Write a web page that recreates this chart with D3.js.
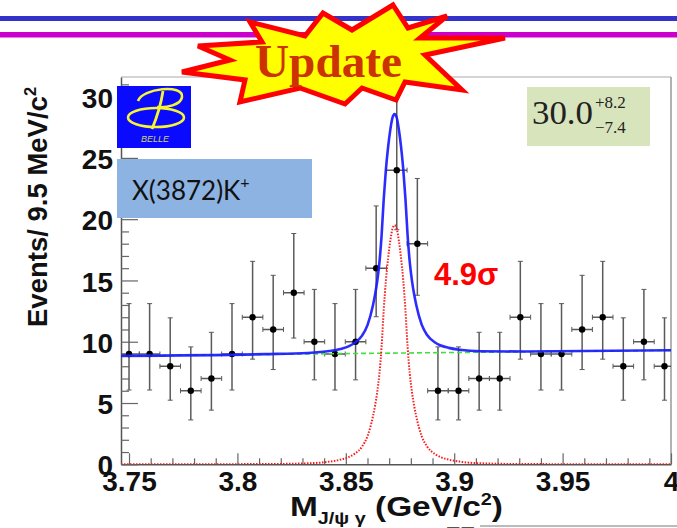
<!DOCTYPE html>
<html><head><meta charset="utf-8">
<script src="https://cdn.jsdelivr.net/npm/d3@7"></script>
<style>html,body{margin:0;padding:0;background:#fff;} svg{display:block;}</style>
</head><body>
<svg id="chart" width="677" height="528"></svg>
<script>
// Bin centres of the J/psi gamma mass histogram (GeV/c^2), 9.5 MeV bins
const binCenters = [3.7500,3.7595,3.7690,3.7785,3.7880,3.7975,3.8070,3.8165,3.8260,3.8355,
                    3.8450,3.8545,3.8640,3.8735,3.8830,3.8925,3.9020,3.9115,3.9210,3.9305,
                    3.9400,3.9495,3.9590,3.9685,3.9780,3.9875,3.9970];
// Events per bin and asymmetric Poisson errors
const events  = [9,9,8,6,7,9,12,11,14,10,9,10,16,24,18,6,6,7,7,12,9,9,11,12,8,10,8];
const errLow  = [2.94,2.94,2.77,2.38,2.58,2.94,3.42,3.27,3.70,3.11,2.94,3.11,3.96,4.86,4.21,
                 2.38,2.38,2.58,2.58,3.42,2.94,2.94,3.27,3.42,2.77,3.11,2.77];
const errHigh = [4.11,4.11,3.95,3.58,3.77,4.11,4.56,4.42,4.83,4.27,4.11,4.27,5.08,5.96,5.32,
                 3.58,3.58,3.77,3.77,4.56,4.11,4.11,4.42,4.56,3.95,4.27,3.95];
const binHalfWidth = 0.00475;

// Fit components: linear background and X(3872) signal shape
const bgMass  = [3.7463, 4.0];
const bgLevel = [8.85, 9.3];
const peakMass = 3.8725;
const sigOffset = [0, 0.001, 0.002, 0.003, 0.004, 0.005, 0.006, 0.007, 0.008, 0.009, 0.010,
                   0.0125, 0.015, 0.0185, 0.021, 0.025, 0.030, 0.040, 0.060, 0.130];
const sigHeight = [19.5, 19.2, 18.2, 16.8, 15.0, 12.6, 9.6, 7.4, 5.9, 4.8, 3.9,
                   2.3, 1.45, 0.85, 0.6, 0.38, 0.22, 0.08, 0.02, 0];

// Axis ticks
const xMajor = [3.75, 3.8, 3.85, 3.9, 3.95, 4.0];
const xTickLabels = ["3.75", "3.8", "3.85", "3.9", "3.95", "4"];
const xMinor = [3.76,3.77,3.78,3.79,3.81,3.82,3.83,3.84,3.86,3.87,3.88,3.89,3.91,3.92,3.93,3.94,3.96,3.97,3.98,3.99];
const yMajor = [0, 5, 10, 15, 20, 25, 30];
const yTickLabels = ["0", "5", "10", "15", "20", "25", "30"];
const yMinor = [1,2,3,4,6,7,8,9,11,12,13,14,16,17,18,19,21,22,23,24,26,27,28,29,31];

const svg = d3.select("#chart");
const x = d3.scaleLinear().domain([3.7463, 4.0]).range([121, 671]);
const y = d3.scaleLinear().domain([0, 31.6]).range([464.3, 77]);

// Decorative header bars
svg.append("rect").attr("x", 0).attr("y", 16).attr("width", 677).attr("height", 5).attr("fill", "#3333cc");
svg.append("rect").attr("x", 0).attr("y", 32).attr("width", 677).attr("height", 5.5).attr("fill", "#cc00cc");

// Frame
svg.append("defs").append("clipPath").attr("id", "plotClip")
  .append("rect").attr("x", 121).attr("y", 77).attr("width", 550).attr("height", 387.3);
svg.append("line").attr("x1", 121).attr("x2", 671).attr("y1", 77).attr("y2", 77)
  .attr("stroke", "#aaa").attr("stroke-width", 1.2);
svg.append("line").attr("x1", 671).attr("x2", 671).attr("y1", 77).attr("y2", 464.3)
  .attr("stroke", "#999").attr("stroke-width", 1.5);

// Axes
const tickFont = "bold 28px 'Liberation Sans', Arial, sans-serif";
svg.append("g").attr("transform", "translate(0,464.3)")
  .call(d3.axisBottom(x).tickValues(xMajor).tickFormat((d, i) => xTickLabels[i])
        .tickSizeInner(-11).tickSizeOuter(0).tickPadding(7));
svg.append("g").attr("transform", "translate(0,464.3)")
  .call(d3.axisBottom(x).tickValues(xMinor).tickFormat("").tickSizeInner(-6).tickSizeOuter(0))
  .select(".domain").remove();
const gy = svg.append("g").attr("transform", "translate(121,0)")
  .call(d3.axisLeft(y).tickValues(yMajor).tickFormat((d, i) => yTickLabels[i])
        .tickSizeInner(-17).tickSizeOuter(0).tickPadding(8));
svg.append("g").attr("transform", "translate(121,0)")
  .call(d3.axisLeft(y).tickValues(yMinor).tickFormat("").tickSizeInner(-8).tickSizeOuter(0))
  .select(".domain").remove();
svg.selectAll(".domain").attr("stroke", "#555").attr("stroke-width", 1.5);
svg.selectAll(".tick line").attr("stroke", "#666").attr("stroke-width", 1.2);
svg.selectAll(".tick text").style("font", tickFont).attr("fill", "#111");
gy.selectAll(".tick text").attr("dy", "0.38em");

// Axis titles
const yTitle = svg.append("text")
  .attr("transform", "translate(47,207) rotate(-90)")
  .attr("text-anchor", "middle")
  .attr("textLength", 240).attr("lengthAdjust", "spacingAndGlyphs")
  .style("font", "bold 27px 'Liberation Sans', Arial, sans-serif").attr("fill", "#111");
yTitle.append("tspan").text("Events/ 9.5 MeV/c");
yTitle.append("tspan").attr("font-size", 16).attr("dy", -11).text("2");

const xTitle = svg.append("text").attr("x", 290).attr("y", 516)
  .attr("textLength", 213).attr("lengthAdjust", "spacingAndGlyphs")
  .style("font", "bold 27px 'Liberation Sans', Arial, sans-serif").attr("fill", "#111");
xTitle.append("tspan").text("M");
xTitle.append("tspan").attr("font-size", 16).attr("dy", 8).text("J/\u03c8 \u03b3");
xTitle.append("tspan").attr("dy", -8).text(" (GeV/c");
xTitle.append("tspan").attr("font-size", 16).attr("dy", -11).text("2");
xTitle.append("tspan").attr("dy", 11).text(")");

// Data points with error bars
const plot = svg.append("g").attr("clip-path", "url(#plotClip)");
const pts = binCenters.map((m, i) => ({m, v: events[i], lo: errLow[i], hi: errHigh[i]}));
const errCol = "#5a5a5a";
const eb = plot.append("g").attr("stroke", errCol).attr("stroke-width", 1.5);
pts.forEach(p => {
  const cx = x(p.m), cy = y(p.v), yt = y(p.v + p.hi), yb = y(p.v - p.lo);
  const xl = x(p.m - binHalfWidth), xr = x(p.m + binHalfWidth);
  eb.append("line").attr("x1", cx).attr("x2", cx).attr("y1", yt).attr("y2", yb);
  eb.append("line").attr("x1", cx - 2.5).attr("x2", cx + 2.5).attr("y1", yt).attr("y2", yt).attr("stroke-width", 1);
  eb.append("line").attr("x1", cx - 2.5).attr("x2", cx + 2.5).attr("y1", yb).attr("y2", yb).attr("stroke-width", 1);
  eb.append("line").attr("x1", xl).attr("x2", xr).attr("y1", cy).attr("y2", cy);
  eb.append("line").attr("x1", xl).attr("x2", xl).attr("y1", cy - 2.5).attr("y2", cy + 2.5).attr("stroke-width", 1);
  eb.append("line").attr("x1", xr).attr("x2", xr).attr("y1", cy - 2.5).attr("y2", cy + 2.5).attr("stroke-width", 1);
});
plot.append("g").selectAll("circle").data(pts).join("circle")
  .attr("cx", d => x(d.m)).attr("cy", d => y(d.v)).attr("r", 3.2).attr("fill", "#000");

// Fit curves
const bgAt = m => bgLevel[0] + (bgLevel[1] - bgLevel[0]) * (m - bgMass[0]) / (bgMass[1] - bgMass[0]);
const sigPts = [];
for (let i = sigOffset.length - 1; i > 0; i--) sigPts.push({m: peakMass - sigOffset[i], s: sigHeight[i]});
for (let i = 0; i < sigOffset.length; i++) sigPts.push({m: peakMass + sigOffset[i], s: sigHeight[i]});
const sigCurve = [{m: bgMass[0], s: 0}, ...sigPts.filter(d => d.m > bgMass[0] && d.m < bgMass[1]), {m: bgMass[1], s: 0}];

const line = d3.line().x(d => x(d.m)).y(d => y(d.v)).curve(d3.curveMonotoneX);

plot.append("path")
  .attr("d", line(bgMass.map((m, i) => ({m, v: bgLevel[i]}))))
  .attr("fill", "none").attr("stroke", "#44dd44").attr("stroke-width", 1.6).attr("stroke-dasharray", "5,3");
plot.append("path")
  .attr("d", line(sigCurve.map(d => ({m: d.m, v: d.s}))))
  .attr("fill", "none").attr("stroke", "#ff1a1a").attr("stroke-width", 2).attr("stroke-dasharray", "1.5,1.5");
plot.append("path")
  .attr("d", line(sigCurve.map(d => ({m: d.m, v: d.s + bgAt(d.m)}))))
  .attr("fill", "none").attr("stroke", "#1a1aff").attr("stroke-width", 2.6).attr("stroke-opacity", 0.92);

// Significance
svg.append("text").attr("x", 434).attr("y", 285)
  .style("font", "bold 31px 'Liberation Sans', Arial, sans-serif").attr("fill", "#ff0000")
  .text("4.9\u03c3");

// Signal yield box
svg.append("rect").attr("x", 527).attr("y", 87).attr("width", 123).attr("height", 59).attr("fill", "#d8e4bc");
svg.append("text").attr("x", 532).attr("y", 124)
  .attr("textLength", 61).attr("lengthAdjust", "spacingAndGlyphs")
  .style("font", "33px 'Liberation Serif', 'Times New Roman', serif").attr("fill", "#222")
  .text("30.0");
svg.append("text").attr("x", 595).attr("y", 108)
  .style("font", "17px 'Liberation Serif', 'Times New Roman', serif").attr("fill", "#222").text("+8.2");
svg.append("text").attr("x", 595).attr("y", 133)
  .style("font", "17px 'Liberation Serif', 'Times New Roman', serif").attr("fill", "#222").text("\u22127.4");

// Channel label
svg.append("rect").attr("x", 117).attr("y", 159).attr("width", 195).attr("height", 59).attr("fill", "#8db3e2");
const chan = svg.append("text").attr("x", 132).attr("y", 200)
  .style("font", "26px Lato, 'Open Sans', sans-serif").attr("fill", "#111");
chan.append("tspan").text("X(3872)K");
chan.append("tspan").attr("font-size", 16).attr("dy", -12).text("+");

// Belle logo
const logo = svg.append("g");
logo.append("rect").attr("x", 117).attr("y", 86).attr("width", 74).attr("height", 62).attr("fill", "#0a0aff");
logo.append("path")
  .attr("d", "M138 101 C142 88, 184 84, 182 97 C181 105, 166 108, 157 107")
  .attr("fill", "none").attr("stroke", "#f5f532").attr("stroke-width", 2.6);
logo.append("path")
  .attr("d", "M163 91 C161 104, 157 117, 152 129")
  .attr("fill", "none").attr("stroke", "#f5f532").attr("stroke-width", 2.8);
logo.append("ellipse").attr("cx", 156).attr("cy", 117.5).attr("rx", 28).attr("ry", 9.5)
  .attr("fill", "none").attr("stroke", "#f5f532").attr("stroke-width", 2.6);
logo.append("text").attr("x", 155).attr("y", 142).attr("text-anchor", "middle")
  .style("font", "italic 9px 'Liberation Sans', Arial, sans-serif").attr("fill", "#d4d46a").text("BELLE");

// "Update" burst
const burst = [[393,5],[408,28],[447,16],[420,38],[505,38],[425,55],[462,90],[405,82],[396,100],
               [362,88],[345,104],[300,88],[240,102],[245,80],[182,72],[230,60],[198,46],[262,42],
               [250,22],[305,36],[323,13],[352,30]];
svg.append("polygon").attr("points", burst.map(p => p.join(",")).join(" "))
  .attr("fill", "#ffff00").attr("stroke", "#ff0000").attr("stroke-width", 5).attr("stroke-linejoin", "miter");
svg.append("text").attr("x", 255).attr("y", 77)
  .attr("textLength", 147).attr("lengthAdjust", "spacingAndGlyphs")
  .style("font", "bold 46px 'Liberation Serif', 'Times New Roman', serif").attr("fill", "#cc3300")
  .text("Update");

// Fragment of the following content at the bottom edge
svg.append("line").attr("x1", 480).attr("x2", 677).attr("y1", 526).attr("y2", 526)
  .attr("stroke", "#bbb").attr("stroke-width", 2);
svg.append("text").attr("x", 446).attr("y", 545)
  .style("font", "bold 26px 'Liberation Sans', Arial, sans-serif").attr("fill", "#555").text("77");
</script>
</body></html>
